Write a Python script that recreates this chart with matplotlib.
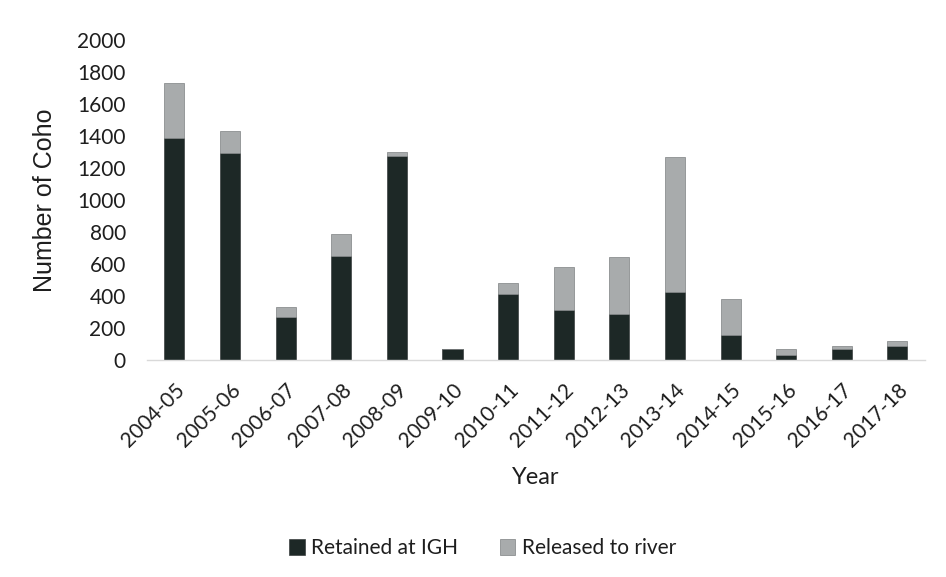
import matplotlib
matplotlib.use("Agg")
import matplotlib.pyplot as plt
import numpy as np

years = ["2004-05", "2005-06", "2006-07", "2007-08", "2008-09", "2009-10", "2010-11",
         "2011-12", "2012-13", "2013-14", "2014-15", "2015-16", "2016-17", "2017-18"]
retained = [1385, 1294, 267, 652, 1273, 69, 412, 312, 285, 427, 154, 31, 67, 88]
released = [348, 135, 64, 138, 25, 0, 71, 271, 357, 842, 225, 40, 18, 33]
yticks = [0, 200, 400, 600, 800, 1000, 1200, 1400, 1600, 1800, 2000]

dark = "#1d2826"
light = "#a8abac"
text_col = "#1e1e1e"

fig = plt.figure(figsize=(9.46, 5.77), dpi=100)
ax = fig.add_axes([0.155, 0.376, 0.823, 0.555])

x = np.arange(len(years))
ax.bar(x, retained, width=0.36, color=dark, edgecolor="#3a3f3f", linewidth=0.5,
       label="Retained at IGH")
ax.bar(x, released, width=0.36, bottom=retained, color=light, edgecolor="#7d8182",
       linewidth=0.5, label="Released to river")

ax.set_xlim(-0.5, len(years) - 0.5)
ax.set_ylim(0, 2000)
ax.set_yticks(yticks)
ax.set_yticklabels([str(v) for v in yticks], fontsize=15, family="Lato", color=text_col)
ax.set_xticks(x)
ax.set_xticklabels(years, rotation=45, ha="right", rotation_mode="anchor",
                   fontsize=15, family="Lato", color=text_col)
ax.tick_params(axis="y", length=0, pad=15)
ax.tick_params(axis="x", length=0, pad=14)

for s in ["top", "right", "left"]:
    ax.spines[s].set_visible(False)
ax.spines["bottom"].set_color("#d9d9d9")
ax.spines["bottom"].set_linewidth(1.0)

ax.set_ylabel("Number of Coho", fontsize=18, family="Liberation Sans", color=text_col)
ax.yaxis.set_label_coords(-0.115, 0.5)
fig.text(0.566, 0.172, "Year", ha="center", va="center", fontsize=17,
         family="Lato", color=text_col)

fig.legend(loc="center", bbox_to_anchor=(0.51, 0.05), ncol=2, frameon=False,
           prop={"family": "Lato", "size": 15}, handlelength=0.75, handleheight=0.75,
           handletextpad=0.3, columnspacing=2.0, labelcolor=text_col)

fig.savefig("out.png", dpi=100, facecolor="white")
